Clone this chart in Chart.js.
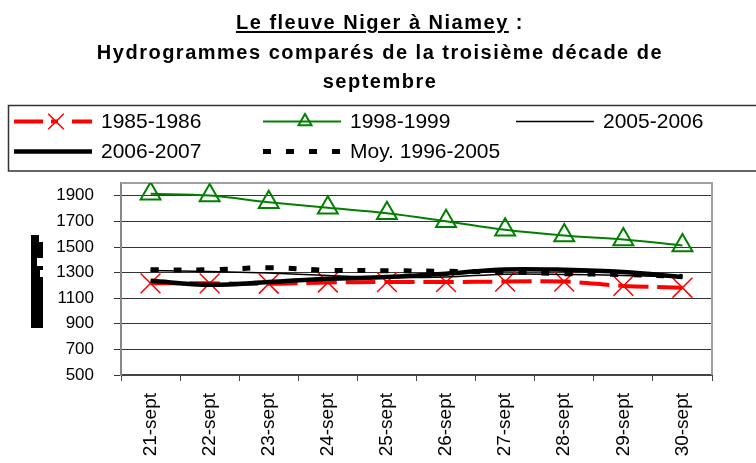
<!DOCTYPE html>
<html>
<head>
<meta charset="utf-8">
<script src="https://cdn.jsdelivr.net/npm/chart.js@4"></script>
<style>
  body { margin: 0; background: #fff; }
  #wrap { position: relative; width: 756px; height: 463px; overflow: hidden; }
  #titre {
    position: absolute; top: 8px; left: 2px; width: 756px;
    text-align: center; font: bold 20px "Liberation Sans", Arial, sans-serif;
    line-height: 29.5px; letter-spacing: 1.5px; color: #000;
  }
  #titre u { text-decoration-thickness: 2px; text-underline-offset: 2px; }
  canvas { position: absolute; left: 0; top: 0; }
</style>
</head>
<body>
<div id="wrap">
  <canvas id="chart" width="756" height="463"></canvas>
  <div id="titre"><u>Le fleuve Niger à Niamey</u> :<br>Hydrogrammes comparés de la troisième décade de<br>septembre</div>
</div>
<script>
/* Débits du Niger à Niamey, 21-30 septembre */

const JOURS = ["21-sept", "22-sept", "23-sept", "24-sept", "25-sept",
               "26-sept", "27-sept", "28-sept", "29-sept", "30-sept"];

const Q_1985 = [1216, 1216, 1213, 1223, 1226, 1226, 1230, 1230, 1196, 1182];
const Q_1998 = [1916, 1902, 1850, 1806, 1764, 1702, 1635, 1590, 1559, 1512];
const Q_2005 = [1317, 1309, 1296, 1278, 1262, 1266, 1288, 1286, 1278, 1265];
const Q_2006 = [1236, 1205, 1226, 1252, 1265, 1291, 1325, 1322, 1304, 1265];
const Q_MOY  = [1322, 1322, 1338, 1318, 1315, 1310, 1305, 1292, 1285, 1270];

const Y_TICKS = [500, 700, 900, 1100, 1300, 1500, 1700, 1900];
const Y_MIN = 500, Y_MAX = 2000;

const FONT = '"Liberation Sans", Arial, sans-serif';

// ── légende encadrée (3 colonnes, comme Excel) ──
const legendeExcel = {
  id: "legendeExcel",
  afterDraw(chart) {
    const ctx = chart.ctx;
    ctx.save();
    ctx.strokeStyle = "#333";
    ctx.lineWidth = 1.5;
    ctx.strokeRect(8.5, 105.5, 760, 65.5);

    const cols = [14, 263, 516];
    const rows = [121.5, 151.5];
    chart.data.datasets.forEach((ds, k) => {
      const x0 = cols[k % 3], y = rows[Math.floor(k / 3)];
      ctx.save();
      ctx.strokeStyle = ds.borderColor;
      ctx.lineWidth = ds.borderWidth;
      ctx.setLineDash(ds.legendDash || ds.borderDash || []);
      ctx.lineCap = "butt";
      ctx.beginPath();
      ctx.moveTo(x0, y);
      ctx.lineTo(x0 + 78, y);
      ctx.stroke();
      ctx.setLineDash([]);
      if (ds.pointRadius > 0) {
        ctx.strokeStyle = ds.pointBorderColor;
        ctx.fillStyle = ds.pointBackgroundColor;
        ctx.lineWidth = ds.pointBorderWidth;
        Chart.helpers.drawPoint(ctx, {
          pointStyle: ds.pointStyle, radius: ds.legendRadius,
          borderWidth: ds.pointBorderWidth, rotation: 0
        }, x0 + 42, y);
      }
      ctx.restore();
      ctx.fillStyle = "#000";
      ctx.font = "21px " + FONT;
      ctx.textBaseline = "middle";
      ctx.fillText(ds.label, x0 + 87, y + 1);
    });
    ctx.restore();
  }
};

// ── cadre gris du tracé + titre d'axe (bloc noir) ──
const cadre = {
  id: "cadre",
  beforeDatasetsDraw(chart) {
    const { ctx, chartArea: a } = chart;
    ctx.save();
    ctx.strokeStyle = "#a0a0a0";
    ctx.lineWidth = 2;
    ctx.beginPath();
    ctx.moveTo(a.left, a.top);
    ctx.lineTo(a.right, a.top);
    ctx.lineTo(a.right, a.bottom);
    ctx.stroke();
    ctx.fillStyle = "#000";
    ctx.fillRect(31, 235, 12, 93);
    ctx.fillStyle = "#fff";
    ctx.fillRect(39, 235, 4, 7);
    ctx.fillRect(37, 258, 6, 8);
    ctx.fillRect(40, 270, 3, 7);
    ctx.restore();
  }
};

function serie(label, data, couleur, largeur, extra) {
  return Object.assign({
    label, data,
    borderColor: couleur,
    borderWidth: largeur,
    pointRadius: 0,
    pointHoverRadius: 0,
    tension: 0.35,
    fill: false,
  }, extra);
}

const datasets = [
  serie("1985-1986", Q_1985, "#ff0000", 4, {
    borderDash: [30, 9], legendDash: [29, 8, 7, 14],
    pointStyle: "crossRot", pointRadius: 14, legendRadius: 11, pointBorderWidth: 1.5,
    pointBorderColor: "#ff0000", pointBackgroundColor: "#ff0000", order: 5,
  }),
  serie("1998-1999", Q_1998, "#008000", 2, {
    pointStyle: "triangle", pointRadius: 11.5, legendRadius: 7.5, pointBorderWidth: 2,
    pointBorderColor: "#008000", pointBackgroundColor: "rgba(255,255,255,0)", order: 4,
  }),
  serie("2005-2006", Q_2005, "#000000", 1.5, { order: 3 }),
  serie("2006-2007", Q_2006, "#000000", 4.5, { order: 2 }),
  serie("Moy. 1996-2005", Q_MOY, "#000000", 5, { borderDash: [8, 15], order: 1 }),
];

new Chart(document.getElementById("chart"), {
  type: "line",
  data: { labels: JOURS, datasets },
  plugins: [cadre, legendeExcel],
  options: {
    responsive: false,
    animation: false,
    layout: { padding: { top: 183, right: 44, left: 0, bottom: 0 } },
    plugins: { legend: { display: false }, tooltip: { enabled: false }, title: { display: false } },
    scales: {
      x: {
        offset: true,
        grid: { offset: true, drawOnChartArea: false, drawTicks: true, tickLength: 6, color: "#444", lineWidth: 1 },
        border: { display: true, color: "#444", width: 2 },
        ticks: {
          minRotation: 90, maxRotation: 90, autoSkip: false, padding: 12,
          color: "#000", font: { family: FONT, size: 19 },
        },
        afterFit: s => { s.height = 88; },
      },
      y: {
        min: Y_MIN, max: Y_MAX,
        afterBuildTicks: axis => { axis.ticks = Y_TICKS.map(v => ({ value: v })); },
        grid: { color: "#333", lineWidth: 1, tickLength: 7 },
        border: { display: true, color: "#888", width: 2 },
        ticks: {
          padding: 20, color: "#000", font: { family: FONT, size: 17 },
          callback: v => String(v),
        },
        afterFit: s => { s.width = 121; },
      }
    }
  }
});
</script>
</body>
</html>
